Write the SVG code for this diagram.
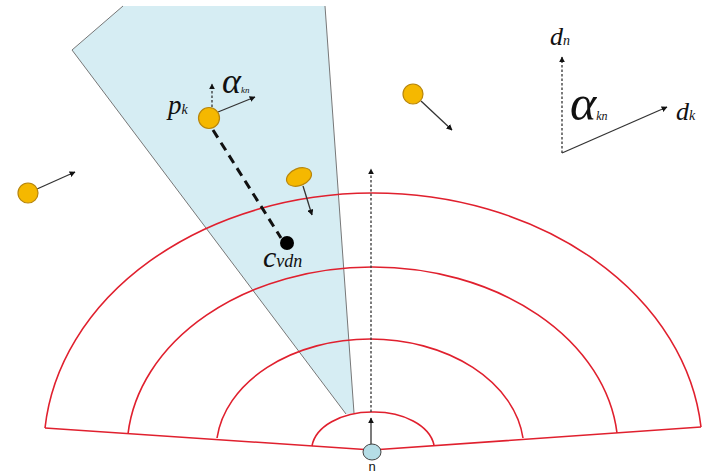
<svg xmlns="http://www.w3.org/2000/svg" width="714" height="475" viewBox="0 0 714 475">
<defs>
<marker id="ah" viewBox="0 0 10 10" refX="9" refY="5" markerWidth="6" markerHeight="6" orient="auto" markerUnits="userSpaceOnUse">
<path d="M0,0 L10,5 L0,10 z" fill="#111"/>
</marker>
</defs>
<style>
.red{fill:none;stroke:#e0202e;stroke-width:1.6}
.obj{fill:#f5b800;stroke:#b8860b;stroke-width:1.2}
.vec{stroke:#333;stroke-width:1.3;fill:none;marker-end:url(#ah)}
.dot{stroke:#333;stroke-width:1.3;fill:none;stroke-dasharray:2.5 2;marker-end:url(#ah)}
.sym{font-family:"Liberation Serif","DejaVu Serif",serif;font-style:italic;fill:#111}
.lbl{font-family:"Liberation Sans",Arial,sans-serif;fill:#111}
</style>
<rect width="714" height="475" fill="#fff"/>
<g id="wedge">
<polygon points="123,6 325,6 354,413 346,414 72,50" fill="#d6edf3"/>
<polyline points="123,6 72,50 346,414" fill="none" stroke="#777" stroke-width="1"/>
<line x1="325" y1="6" x2="354" y2="413" stroke="#777" stroke-width="1"/>
</g>
<g id="fan">
<path class="red" d="M45,428 L372,450 L701,427"/>
<path class="red" d="M45,428 A329.3,257 0 0 1 372,193 A329.3,257 0 0 1 701,427"/>
<path class="red" d="M128,434 A245.5,183 0 0 1 372,267 A245.5,183 0 0 1 617,433"/>
<path class="red" d="M217,438 A154,111 0 0 1 370,339 A154,111 0 0 1 523,438"/>
<path class="red" d="M312,446 A60.3,38 0 0 1 372,412 A60.3,38 0 0 1 434,445"/>
</g>
<g id="connectors">
<line class="dot" x1="371" y1="412" x2="371" y2="169"/>
<line class="vec" x1="371" y1="445" x2="371" y2="418"/>
<line x1="213" y1="130" x2="281" y2="238" stroke="#111" stroke-width="3" stroke-dasharray="9 6"/>
<line class="dot" x1="212" y1="107" x2="212" y2="84"/>
<line class="vec" x1="218" y1="112" x2="255" y2="97"/>
<line class="vec" x1="421" y1="101" x2="452" y2="130"/>
<line class="vec" x1="37" y1="189" x2="75" y2="172"/>
<line class="vec" x1="303" y1="186" x2="312" y2="215"/>
<line class="dot" x1="562" y1="153" x2="562" y2="57"/>
<line class="vec" x1="562" y1="153" x2="667" y2="107"/>
</g>
<g id="node-n">
<ellipse cx="372" cy="452" rx="9" ry="8" fill="#b5dde6" stroke="#444" stroke-width="1"/>
<text class="lbl" x="372" y="471" font-size="13" text-anchor="middle">n</text>
</g>
<g id="pk">
<circle class="obj" cx="209" cy="118" r="10.5"/>
<text class="sym" x="168" y="114" font-size="27">p<tspan font-size="14">k</tspan></text>
<text class="sym" x="222" y="93" font-size="36">α<tspan font-size="9">kn</tspan></text>
</g>
<g id="obj-right"><circle class="obj" cx="413" cy="94" r="10"/></g>
<g id="obj-left"><circle class="obj" cx="28" cy="193" r="10"/></g>
<g id="obj-ellipse"><ellipse class="obj" cx="299" cy="177" rx="13" ry="8.5" transform="rotate(-22 299 177)"/></g>
<g id="cvdn">
<circle cx="287" cy="243" r="7" fill="#000"/>
<text class="sym" x="263" y="267" font-size="30">c<tspan font-size="18">vdn</tspan></text>
</g>
<g id="axes">
<text class="sym" x="550" y="45" font-size="26">d<tspan font-size="14">n</tspan></text>
<text class="sym" x="570" y="120" font-size="50">α<tspan font-size="12">kn</tspan></text>
<text class="sym" x="676" y="120" font-size="26">d<tspan font-size="14">k</tspan></text>
</g>
</svg>
